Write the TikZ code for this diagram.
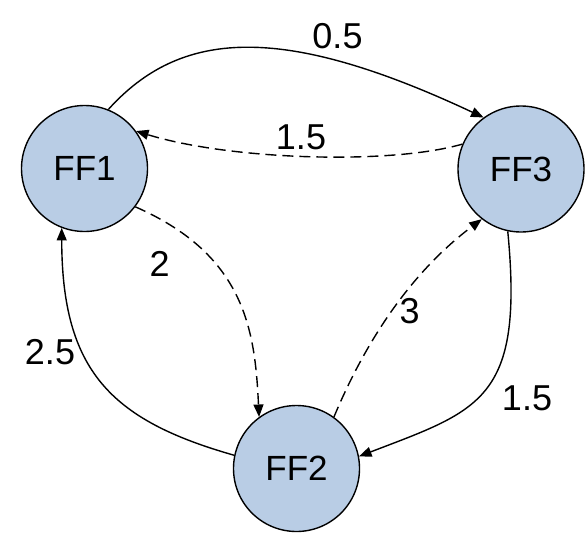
\documentclass[tikz,border=0pt]{standalone}
\usepackage{fontspec}
\setmainfont{Liberation Sans}
\usetikzlibrary{arrows.meta}
\definecolor{ffblue}{HTML}{B9CDE5}
\begin{document}
\begin{tikzpicture}[x=1pt,y=-1pt,
  ff/.style={circle,draw=black,line width=1.4pt,fill=ffblue,minimum size=126pt,inner sep=0pt,font=\fontsize{35}{40}\selectfont},
  lbl/.style={anchor=base,font=\fontsize{36}{40}\selectfont,inner sep=0pt},
  conn/.style={line width=1.4pt,-{Triangle[length=12.5pt,width=10pt]}},
  dsh/.style={conn,dash pattern=on 11pt off 6pt}]
\useasboundingbox (0,0) rectangle (585,532);
\node[ff] (FF1) at (84.5,168.5) {\raisebox{-5pt}{FF1}};
\node[ff] (FF3) at (521,169) {\raisebox{-5pt}{FF3}};
\node[ff] (FF2) at (296.5,468.5) {\raisebox{-5pt}{FF2}};
\draw[conn] (FF1.68) .. controls (180,30) and (280,22) .. (FF3.126);
\draw[dsh] (FF3.157) .. controls (390,165) and (230,160) .. (FF1.36);
\draw[dsh] (FF1.-37) .. controls (245,255) and (255,330) .. (FF2.126);
\draw[dsh] (FF2.54) .. controls (359,357) and (402,279) .. (FF3.232);
\draw[conn] (FF3.258) .. controls (524,400) and (480,410) .. (FF2.11.6);
\draw[conn] (FF2.168) .. controls (110,420) and (62,370) .. (FF1.249);
\node[lbl] (l05) at (337.5,49) {0.5};
\node[lbl] (l15a) at (301,149) {1.5};
\node[lbl] (l2) at (159.7,276.5) {2};
\node[lbl] (l25) at (50,364) {2.5};
\node[lbl] (l3) at (409.7,323.3) {3};
\node[lbl] (l15b) at (527,410.5) {1.5};
\end{tikzpicture}
\end{document}
